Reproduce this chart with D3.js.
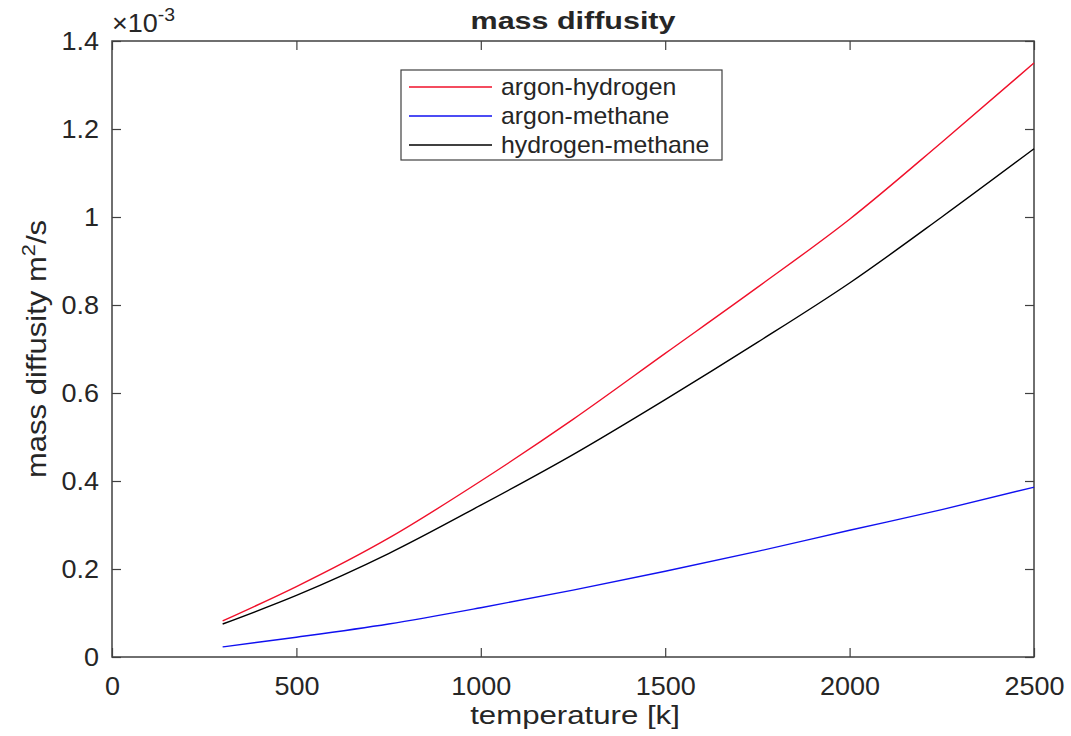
<!DOCTYPE html>
<html>
<head>
<meta charset="UTF-8">
<title>mass diffusity</title>
<style>
  body { margin: 0; background: #fff; }
  text { font-family: "Liberation Sans", Arial, sans-serif; fill: #262626; }
</style>
</head>
<body>
<div id="chart"></div>
<script src="https://cdnjs.cloudflare.com/ajax/libs/d3/7.8.5/d3.min.js"></script>
<script>
  // temperature [k]
  var temps = [300, 500, 750, 1000, 1250, 1500, 1750, 2000, 2250, 2500];
  // mass diffusity, units of 1e-3 m^2/s
  var argonHydrogen  = [0.082, 0.160, 0.270, 0.400, 0.540, 0.690, 0.840, 0.995, 1.170, 1.350];
  var argonMethane   = [0.023, 0.045, 0.075, 0.112, 0.152, 0.195, 0.240, 0.288, 0.335, 0.386];
  var hydrogenMethane = [0.075, 0.140, 0.235, 0.345, 0.460, 0.585, 0.715, 0.850, 1.000, 1.155];

  var seriesNames = ["argon-hydrogen", "argon-methane", "hydrogen-methane"];
  var seriesColors = ["#f0102a", "#1010f0", "#000000"];
  var xTicks = [0, 500, 1000, 1500, 2000, 2500];
  var yTicks = [0, 0.2, 0.4, 0.6, 0.8, 1, 1.2, 1.4];

  var W = 1071, H = 736;
  var margin = {left: 112, top: 41, right: 37, bottom: 79};
  var pw = W - margin.left - margin.right,
      ph = H - margin.top - margin.bottom;

  var svg = d3.select("#chart").append("svg")
      .attr("width", W).attr("height", H);

  var g = svg.append("g")
      .attr("transform", "translate(" + margin.left + "," + margin.top + ")");

  var x = d3.scaleLinear().domain([0, 2500]).range([0, pw]);
  var y = d3.scaleLinear().domain([0, 1.4]).range([ph, 0]);

  var axisColor = "#404040";
  var tickLen = 9;

  // axes (ticks inside, MATLAB style)
  g.append("g").attr("transform", "translate(0," + ph + ")")
      .call(d3.axisBottom(x).tickValues(xTicks).tickSizeInner(-tickLen).tickSizeOuter(0).tickPadding(20)
        .tickFormat(d3.format("d")));
  g.append("g")
      .call(d3.axisLeft(y).tickValues(yTicks).tickSizeInner(-tickLen).tickSizeOuter(0).tickPadding(12)
        .tickFormat(function(d) { return d === 0 ? "0" : d === 1 ? "1" : d3.format(".1f")(d); }));
  g.append("g")
      .call(d3.axisTop(x).tickValues(xTicks).tickSizeInner(-tickLen).tickSizeOuter(0).tickFormat(""));
  g.append("g").attr("transform", "translate(" + pw + ",0)")
      .call(d3.axisRight(y).tickValues(yTicks).tickSizeInner(-tickLen).tickSizeOuter(0).tickFormat(""));

  g.selectAll(".domain").remove();
  g.selectAll(".tick line").attr("stroke", axisColor).attr("stroke-width", 1.2);
  g.selectAll(".tick text")
      .style("font-family", "'Liberation Sans', Arial, sans-serif")
      .style("font-size", "25px")
      .attr("fill", "#262626")
      .attr("transform", "scale(1.08,1)");

  g.append("rect")
      .attr("width", pw).attr("height", ph)
      .attr("fill", "none").attr("stroke", axisColor).attr("stroke-width", 1.5);

  // lines
  var line = d3.line()
      .x(function(d, i) { return x(temps[i]); })
      .y(function(d) { return y(d); })
      .curve(d3.curveMonotoneX);

  [argonHydrogen, argonMethane, hydrogenMethane].forEach(function(vals, i) {
    g.append("path")
      .datum(vals)
      .attr("d", line)
      .attr("fill", "none")
      .attr("stroke", seriesColors[i])
      .attr("stroke-width", 1.4);
  });

  // exponent label
  var ex = svg.append("text").attr("transform", "translate(112,32) scale(1.08,1)").style("font-size", "25px");
  ex.append("tspan").text("\u00d710");
  ex.append("tspan").attr("dy", -11).style("font-size", "18px").text("-3");

  // title
  svg.append("text")
      .attr("transform", "translate(" + (margin.left + pw / 2) + ",29) scale(1.27,1)")
      .attr("text-anchor", "middle")
      .style("font-size", "24px").style("font-weight", "bold")
      .attr("fill", "#000")
      .text("mass diffusity");

  // x label
  svg.append("text")
      .attr("transform", "translate(" + (margin.left + pw / 2 + 2) + ",724) scale(1.2,1)")
      .attr("text-anchor", "middle")
      .style("font-size", "26px")
      .text("temperature [k]");

  // y label
  var yl = svg.append("text")
      .attr("transform", "translate(46," + (margin.top + ph / 2) + ") rotate(-90) scale(1.15,1)")
      .attr("text-anchor", "middle")
      .style("font-size", "27px");
  yl.append("tspan").text("mass diffusity m");
  yl.append("tspan").attr("dy", -11).style("font-size", "19px").text("2");
  yl.append("tspan").attr("dy", 11).text("/s");

  // legend
  var leg = svg.append("g").attr("transform", "translate(401,70)");
  leg.append("rect").attr("width", 321).attr("height", 90)
      .attr("fill", "#fff").attr("stroke", axisColor).attr("stroke-width", 1.2);
  seriesNames.forEach(function(name, i) {
    var cy = 17 + i * 29;
    leg.append("line")
      .attr("x1", 8).attr("x2", 91).attr("y1", cy).attr("y2", cy)
      .attr("stroke", seriesColors[i]).attr("stroke-width", 1.4);
    leg.append("text")
      .attr("transform", "translate(100," + (cy + 8) + ") scale(1.08,1)")
      .style("font-size", "23px")
      .text(name);
  });
</script>
</body>
</html>
